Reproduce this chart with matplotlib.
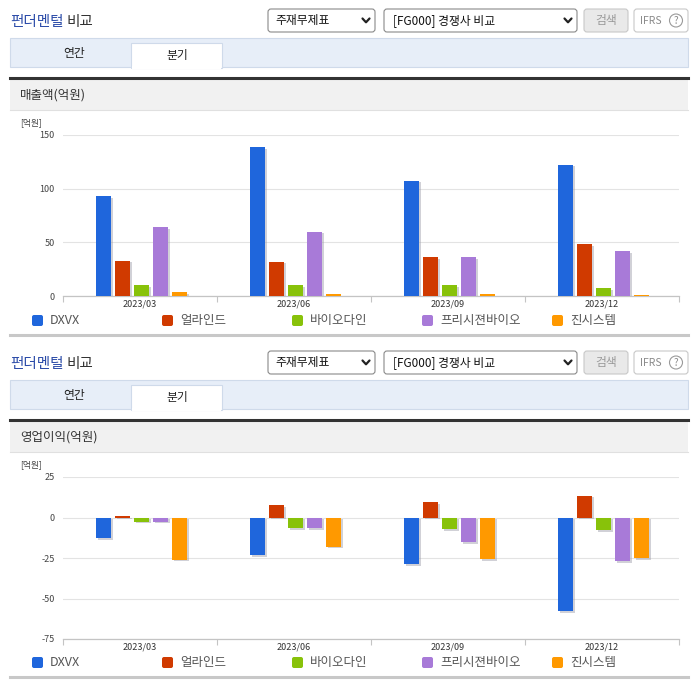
import matplotlib
matplotlib.use('Agg')
import matplotlib.pyplot as plt
import matplotlib.patheffects as pe
from matplotlib.patches import Rectangle, FancyBboxPatch, Circle
import numpy as np

plt.rcParams['font.family'] = ['Noto Sans CJK KR', 'DejaVu Sans']

# data
quarters = ['2023/03', '2023/06', '2023/09', '2023/12']
companies = ['DXVX', '얼라인드', '바이오다인', '프리시젼바이오', '진시스템']
colors = ['#1f66dc', '#d03a00', '#88c20a', '#a87ad8', '#ff9900']

sales_dxvx = [93, 139, 107.5, 122.5]
sales_aligned = [33, 32, 36, 48]
sales_biodyne = [10.3, 10, 10.5, 7]
sales_precision = [64, 60, 36, 41.5]
sales_gene = [4, 1.5, 2, 0.5]

op_dxvx = [-12.5, -23, -29, -58]
op_aligned = [1, 7.5, 9.5, 13.5]
op_biodyne = [-2.5, -6.5, -7, -8]
op_precision = [-2.5, -6.5, -15, -27]
op_gene = [-26, -18, -25.5, -25]

sales = [sales_dxvx, sales_aligned, sales_biodyne, sales_precision, sales_gene]
op = [op_dxvx, op_aligned, op_biodyne, op_precision, op_gene]

W, H = 696, 684
fig = plt.figure(figsize=(W / 100, H / 100), dpi=100)
bg = fig.add_axes([0, 0, 1, 1])
bg.set_xlim(0, W)
bg.set_ylim(H, 0)
bg.axis('off')


def px_axes(x0, y0, x1, y1):
    return fig.add_axes([x0 / W, 1 - y1 / H, (x1 - x0) / W, (y1 - y0) / H])


def chevron(x, y):
    bg.plot([x - 3.5, x, x + 3.5], [y - 2, y + 1.8, y - 2], color='#222', lw=1.6,
            solid_capstyle='round', solid_joinstyle='round')


def header_block(d, title):
    # title
    bg.text(10, 22 + d, '펀더멘털', fontsize=10.5, color='#2b4ba8', va='center', ha='left')
    bg.text(67, 22 + d, '비교', fontsize=10.5, color='#333333', va='center', ha='left')
    # dropdowns
    bg.add_patch(FancyBboxPatch((268, 9 + d), 107, 23, boxstyle='round,pad=0,rounding_size=3',
                                fc='white', ec='#8a8a8a', lw=0.8))
    bg.text(275, 20.5 + d, '주재무제표', fontsize=8.5, color='#111', va='center')
    chevron(366, 20.5 + d)
    bg.add_patch(FancyBboxPatch((384, 9 + d), 193, 23, boxstyle='round,pad=0,rounding_size=3',
                                fc='white', ec='#8a8a8a', lw=0.8))
    bg.text(393, 20.5 + d, '[FG000] 경쟁사 비교', fontsize=8.5, color='#111', va='center')
    chevron(568, 20.5 + d)
    bg.add_patch(FancyBboxPatch((584, 9 + d), 44, 23, boxstyle='round,pad=0,rounding_size=3',
                                fc='#e9e9e9', ec='#c8c8c8', lw=0.8))
    bg.text(606, 20.5 + d, '검색', fontsize=8.5, color='#9a9a9a', va='center', ha='center')
    bg.add_patch(FancyBboxPatch((634, 9 + d), 54, 23, boxstyle='round,pad=0,rounding_size=3',
                                fc='white', ec='#c8c8c8', lw=0.8))
    bg.text(640, 20.5 + d, 'IFRS', fontsize=7.5, color='#8a8a8a', va='center', ha='left')
    bg.add_patch(Circle((676, 20.5 + d), 6.5, fc='white', ec='#9a9a9a', lw=0.8))
    bg.text(676, 20.8 + d, '?', fontsize=7, color='#8a8a8a', va='center', ha='center')
    # tab bar
    bg.add_patch(Rectangle((10, 38 + d), 678, 29, fc='#e7eef8', ec='#cfdaea', lw=0.8))
    bg.add_patch(Rectangle((131, 43 + d), 91, 25, fc='white', ec='#cfdaea', lw=0.8))
    bg.add_patch(Rectangle((131.6, 66 + d), 89.8, 3, fc='white', ec='none'))
    bg.text(74, 54 + d, '연간', fontsize=8.5, color='#222', va='center', ha='center')
    bg.text(177, 55 + d, '분기', fontsize=8.5, color='#222', va='center', ha='center')
    # dark rule and section band
    bg.add_patch(Rectangle((10, 79 + d), 678, 31, fc='#f1f1f1', ec='none'))
    bg.plot([10, 688], [78 + d, 78 + d], color='#333333', lw=2.2)
    bg.plot([10, 688], [110 + d, 110 + d], color='#e0e0e0', lw=0.8)
    bg.text(20, 95 + d, title, fontsize=9, color='#333', va='center', ha='left')
    bg.text(20, 123 + d, '[억원]', fontsize=6.3, color='#444', va='center', ha='left')
    # legend
    for j, (name, c) in enumerate(zip(companies, colors)):
        x = 32 + 130 * j
        bg.add_patch(FancyBboxPatch((x, 315 + d), 11, 11, boxstyle='round,pad=0,rounding_size=2',
                                    fc=c, ec='none'))
        bg.text(x + 18, 320.5 + d, name, fontsize=9, color='#555', va='center', ha='left')
    # bottom separator
    bg.plot([10, 688], [334.5 + d, 334.5 + d], color='#c8c8c8', lw=2.2)


def chart(ax, series, ylim, yticks):
    ax.set_xlim(0, len(quarters))
    ax.set_ylim(*ylim)
    ax.set_yticks(yticks)
    ax.set_yticklabels([str(v) for v in yticks], fontsize=6.5, color='#444')
    ax.grid(axis='y', color='#e3e3e3', lw=0.8)
    ax.set_axisbelow(True)
    for s in ['top', 'right', 'left']:
        ax.spines[s].set_visible(False)
    ax.spines['bottom'].set_color('#c4c4c4')
    ax.spines['bottom'].set_linewidth(0.9)
    ax.tick_params(axis='y', length=0, pad=6)
    ax.set_xticks(np.arange(len(quarters) + 1))
    ax.set_xticklabels([])
    ax.tick_params(axis='x', length=4, color='#c4c4c4', width=0.8)
    ax.set_xticks(np.arange(len(quarters)) + 0.5, minor=True)
    ax.set_xticklabels(quarters, minor=True, fontsize=6.5, color='#333')
    ax.tick_params(axis='x', which='minor', length=0, pad=2.5)
    idx = np.arange(len(quarters))
    for j, (vals, c) in enumerate(zip(series, colors)):
        ax.bar(idx + (33 + 19 * j) / 154, vals, width=15 / 154, align='edge', color=c,
               zorder=3, path_effects=[pe.SimplePatchShadow(offset=(1.3, -1.3),
                                                            shadow_rgbFace='#9a9aa8', alpha=0.45),
                                       pe.Normal()])


header_block(0, '매출액(억원)')
header_block(342, '영업이익(억원)')

ax1 = px_axes(63, 135, 679, 296)
chart(ax1, sales, (0, 150), [0, 50, 100, 150])

ax2 = px_axes(63, 477, 679, 639)
chart(ax2, op, (-75, 25), [-75, -50, -25, 0, 25])

fig.savefig('out.png', dpi=100)
